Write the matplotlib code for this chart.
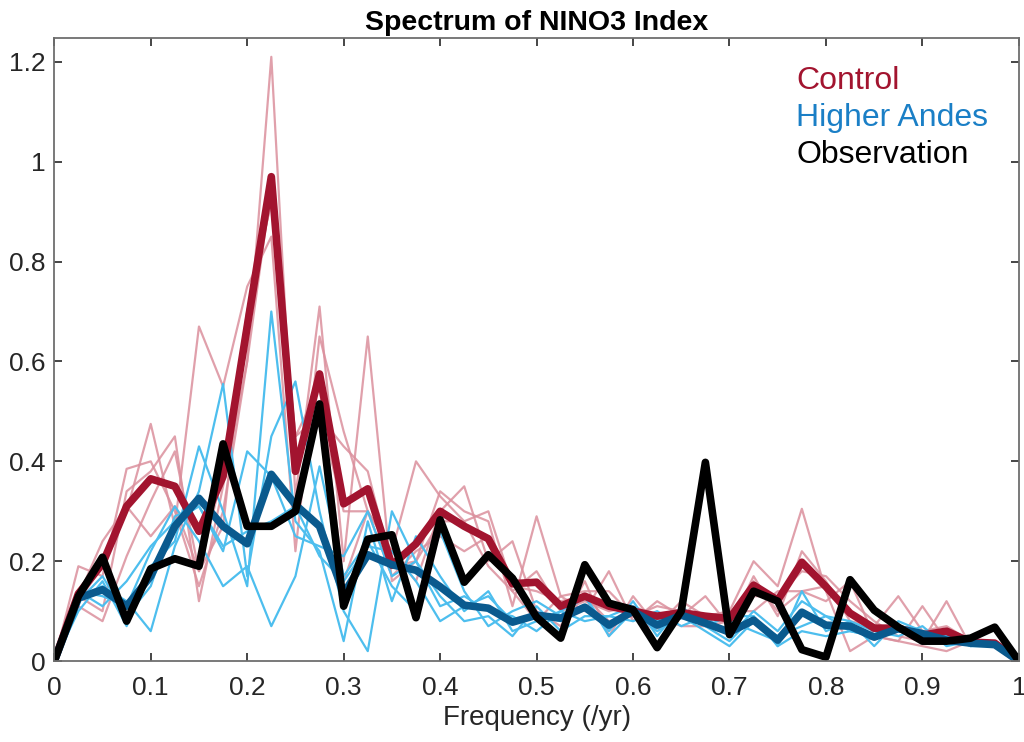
import numpy as np
import matplotlib
matplotlib.use("Agg")
import matplotlib.pyplot as plt
from matplotlib.lines import Line2D

plt.rcParams['font.family'] = ['Liberation Sans', 'DejaVu Sans']

# frequency grid (/yr), 0 to 1 in steps of 0.025
freq = np.arange(41) * 0.025

# ensemble mean spectra
control_mean = [0, .135, .195, .31, .365, .35, .26, .37, .67, .97, .38, .575, .315, .345, .192, .235,
                .30, .27, .245, .155, .158, .11, .13, .11, .10, .09, .097, .09, .085, .152, .122,
                .198, .149, .096, .066, .066, .052, .06, .038, .036, 0]
andes_mean = [0, .126, .143, .11, .17, .27, .326, .27, .235, .374, .313, .27, .135, .213, .193, .182,
              .149, .112, .106, .078, .092, .086, .108, .072, .10, .072, .092, .076, .058, .082, .042,
              .098, .072, .07, .048, .065, .055, .042, .036, .033, 0]
observation = [0, .13, .208, .08, .185, .205, .19, .435, .27, .27, .30, .515, .11, .244, .253, .087,
               .283, .158, .213, .166, .088, .046, .193, .116, .103, .027, .10, .398, .053, .14, .12,
               .023, .008, .163, .102, .068, .04, .04, .046, .068, 0]

# individual ensemble members
control_members = [
    [0, .19, .17, .385, .40, .30, .15, .30, .60, 1.21, .33, .71, .20, .65, .16, .20, .34, .30, .28, .11, .29,
     .13, .10, .18, .08, .12, .09, .13, .07, .17, .09, .22, .16, .08, .07, .13, .06, .07, .04, .04, 0],
    [0, .12, .19, .30, .475, .27, .67, .55, .75, .85, .22, .65, .46, .30, .22, .16, .30, .35, .20, .24, .10,
     .07, .16, .05, .13, .07, .12, .09, .10, .20, .15, .305, .14, .02, .05, .04, .11, .04, .04, .03, 0],
    [0, .13, .10, .34, .38, .45, .12, .35, .60, .95, .45, .55, .16, .30, .22, .40, .33, .28, .30, .15, .14,
     .12, .13, .08, .09, .11, .10, .08, .06, .13, .13, .18, .17, .12, .08, .05, .04, .12, .03, .04, 0],
    [0, .11, .08, .21, .32, .42, .18, .38, .70, .92, .40, .50, .30, .30, .17, .22, .25, .22, .25, .14, .18,
     .10, .12, .10, .11, .09, .07, .07, .08, .16, .10, .14, .15, .10, .07, .07, .04, .05, .04, .04, 0],
    [0, .13, .24, .31, .25, .31, .18, .27, .70, .92, .45, .49, .43, .38, .19, .20, .28, .28, .19, .14, .08,
     .13, .14, .14, .09, .06, .10, .08, .10, .10, .14, .14, .12, .16, .05, .04, .03, .02, .04, .03, 0],
]
andes_members = [
    [0, .10, .16, .07, .19, .24, .43, .30, .15, .70, .28, .22, .04, .28, .12, .25, .17, .10, .14, .06, .08,
     .10, .13, .06, .12, .05, .11, .07, .04, .09, .03, .14, .06, .08, .03, .08, .06, .04, .04, .03, 0],
    [0, .13, .15, .12, .06, .23, .34, .555, .17, .45, .56, .30, .10, .02, .30, .20, .13, .08, .09, .05, .11,
     .06, .09, .09, .08, .10, .07, .09, .05, .10, .06, .12, .09, .06, .05, .06, .05, .05, .03, .04, 0],
    [0, .14, .13, .11, .22, .31, .24, .15, .19, .07, .17, .39, .17, .24, .15, .10, .26, .14, .07, .10, .12,
     .09, .13, .05, .10, .06, .09, .06, .03, .08, .05, .07, .09, .08, .06, .05, .07, .03, .04, .03, 0],
    [0, .12, .17, .09, .15, .29, .31, .22, .42, .37, .25, .23, .21, .30, .17, .20, .11, .13, .10, .09, .06,
     .10, .08, .09, .11, .07, .10, .09, .08, .06, .04, .10, .07, .07, .05, .07, .05, .04, .04, .03, 0],
    [0, .14, .11, .16, .23, .28, .31, .23, .26, .28, .31, .21, .16, .23, .22, .16, .08, .11, .13, .08, .09,
     .08, .11, .07, .10, .08, .09, .07, .09, .09, .03, .06, .05, .06, .05, .06, .05, .05, .03, .03, 0],
]

red_dark = '#A2142F'
red_light = '#DB909D'
blue_dark = '#0A5A8E'
blue_light = '#4DBEEE'
blue_text = '#1A7FC6'

fig = plt.figure(figsize=(10.24, 7.42), dpi=100)
ax = fig.add_axes([0.053, 0.109, 0.942, 0.84])

for m in control_members:
    ax.plot(freq, m, color=red_light, lw=1.6, alpha=0.85)
for m in andes_members:
    ax.plot(freq, m, color=blue_light, lw=1.6)

ax.plot(freq, control_mean, color=red_dark, lw=5.5)
ax.plot(freq, andes_mean, color=blue_dark, lw=5.5)
ax.plot(freq, observation, color='black', lw=5.5)

ax.set_xlim(0, 1)
ax.set_ylim(0, 1.248)
ax.set_xticks(np.arange(0, 1.01, 0.1))
ax.set_xticklabels(['0', '0.1', '0.2', '0.3', '0.4', '0.5', '0.6', '0.7', '0.8', '0.9', '1'])
ax.set_yticks([0, 0.2, 0.4, 0.6, 0.8, 1.0, 1.2])
ax.set_yticklabels(['0', '0.2', '0.4', '0.6', '0.8', '1', '1.2'])
ax.tick_params(direction='in', top=True, right=True, length=6, width=1.2,
               colors='#262626', labelsize=19)
ax.tick_params(axis='x', pad=11)
ax.tick_params(axis='y', pad=6)
for s in ax.spines.values():
    s.set_color('#6e6e6e')
    s.set_linewidth(1.3)

ax.set_xlabel('Frequency (/yr)', fontsize=20, color='#262626', labelpad=3)
ax.set_title('Spectrum of NINO3 Index', fontsize=20.5, fontweight='bold', pad=6)

handles = [Line2D([], [], color=c, lw=0) for c in (red_dark, blue_text, 'black')]
ax.legend(handles, ['Control', 'Higher Andes', 'Observation'],
          labelcolor=[red_dark, blue_text, 'black'], handlelength=0, handletextpad=0,
          frameon=False, fontsize=23, loc='upper left', bbox_to_anchor=(0.746, 0.99),
          labelspacing=0.22, borderaxespad=0.3)

fig.savefig('out.png', dpi=100)
